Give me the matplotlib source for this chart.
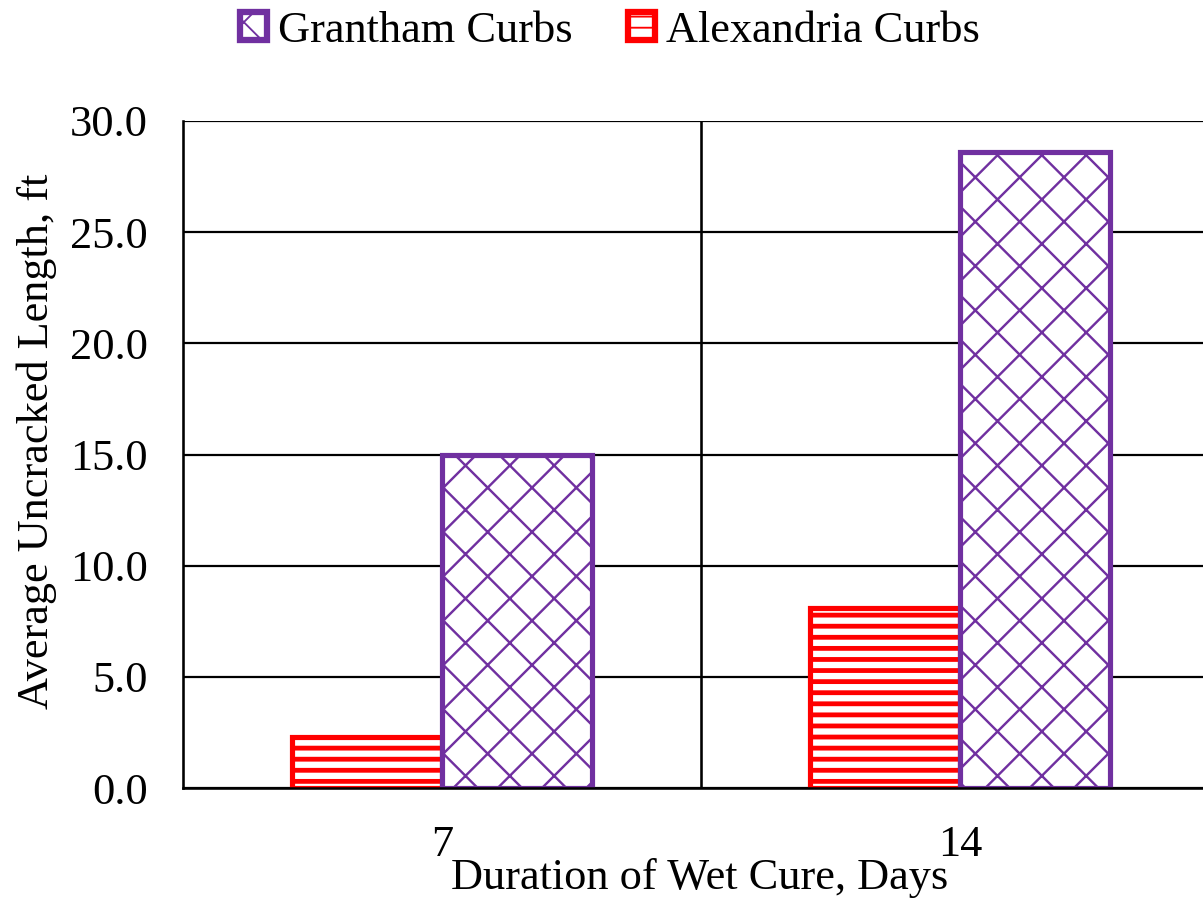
import matplotlib
matplotlib.use("Agg")
import matplotlib.pyplot as plt
from matplotlib.patches import Patch
import numpy as np

# Data: average uncracked length per wet-cure duration
durations = ["7", "14"]
alexandria = [2.3, 8.1]
grantham = [15.0, 28.6]
y_ticks = [0, 5, 10, 15, 20, 25, 30]

PURPLE = "#7030A0"
RED = "#FF0000"
FS = 24

DPI = 133
plt.rcParams["font.family"] = ["Liberation Serif", "DejaVu Serif"]

fig = plt.figure(figsize=(1203 / DPI, 898 / DPI), dpi=DPI)
ax_left, ax_right, ax_top, ax_bottom = 183, 1219, 121, 788
ax = fig.add_axes([ax_left / 1203, 1 - ax_bottom / 898,
                   (ax_right - ax_left) / 1203, (ax_bottom - ax_top) / 898])

x = np.arange(len(durations))
w = 0.29


def set_hlw(patches, lw):
    for p in patches:
        try:
            p.set_hatch_linewidth(lw)
        except AttributeError:
            pass


with plt.rc_context({"hatch.linewidth": 2.6}):
    bars_a = ax.bar(x - w / 2, alexandria, w, facecolor="white", edgecolor=RED,
                    hatch="--", linewidth=2.8, zorder=3)
with plt.rc_context({"hatch.linewidth": 1.3}):
    bars_g = ax.bar(x + w / 2, grantham, w, facecolor="white", edgecolor=PURPLE,
                    hatch="x", linewidth=2.8, zorder=3)
set_hlw(bars_a, 2.6)
set_hlw(bars_g, 1.3)

ax.set_xlim(-0.5, 1.5)
ax.set_ylim(0, 30)
ax.set_yticks(y_ticks)
ax.set_yticklabels([f"{v:.1f}" for v in y_ticks])
ax.set_xticks(x)
ax.set_xticklabels(durations)
ax.set_xticks([0.5], minor=True)

ax.tick_params(axis="both", which="both", length=0, labelsize=FS)
ax.tick_params(axis="y", pad=19)
ax.tick_params(axis="x", pad=20)

ax.grid(axis="y", which="major", color="black", linewidth=1.2, zorder=1)
ax.grid(axis="x", which="minor", color="black", linewidth=1.4, zorder=1)
ax.set_axisbelow(True)

for side in ["top", "right"]:
    ax.spines[side].set_visible(False)
for side in ["left", "bottom"]:
    ax.spines[side].set_linewidth(1.4)
    ax.spines[side].set_zorder(4)

ax.set_ylabel("Average Uncracked Length, ft", fontsize=FS, va="center")
ax.yaxis.set_label_coords((37 - ax_left) / (ax_right - ax_left), 0.52)
ax.set_xlabel("Duration of Wet Cure, Days", fontsize=FS, va="center")
ax.xaxis.set_label_coords((700 - ax_left) / (ax_right - ax_left),
                          -(878 - ax_bottom) / (ax_bottom - ax_top))

with plt.rc_context({"hatch.linewidth": 2.6}):
    h_g = Patch(facecolor="white", edgecolor=PURPLE, hatch="x", linewidth=3.4,
                label="Grantham Curbs")
    h_a = Patch(facecolor="white", edgecolor=RED, hatch="--", linewidth=3.4,
                label="Alexandria Curbs")
set_hlw([h_g, h_a], 2.6)

leg = fig.legend(handles=[h_g, h_a], loc="center",
                 bbox_to_anchor=(610 / 1203, 1 - 31 / 898),
                 ncol=2, frameon=False, fontsize=FS, handlelength=0.6,
                 handleheight=0.6, handletextpad=0.25, columnspacing=1.25,
                 borderpad=0)

fig.savefig("out.png", dpi=DPI)
